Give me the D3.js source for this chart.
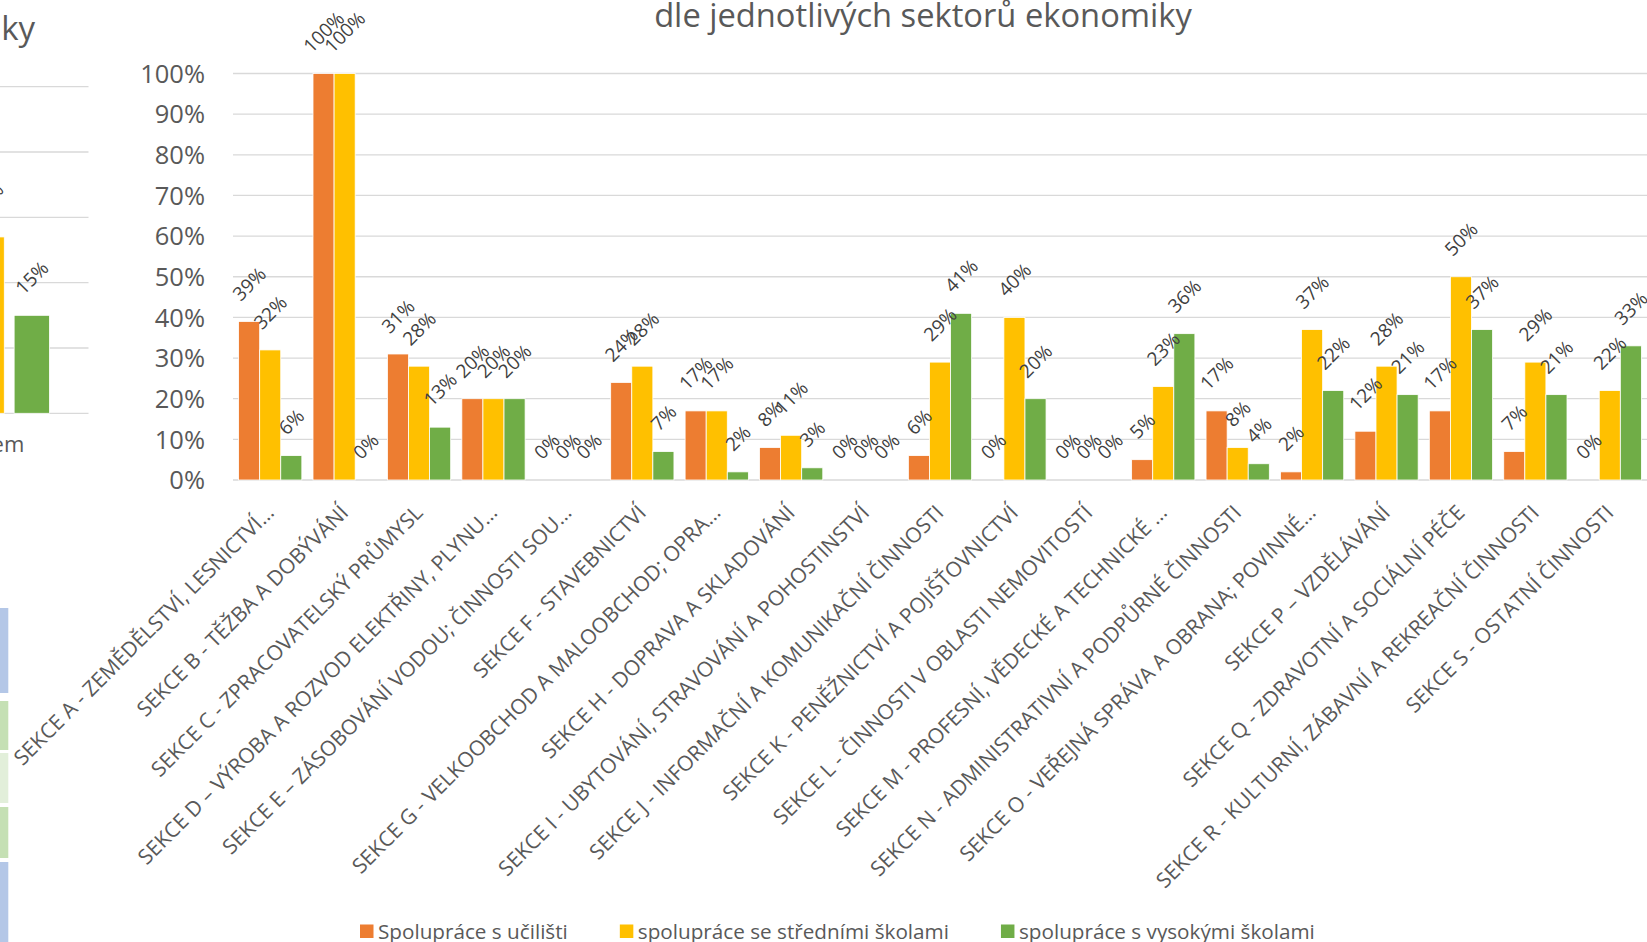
<!DOCTYPE html>
<html><head><meta charset="utf-8">
<script src="https://cdn.jsdelivr.net/npm/d3@7"></script>
<style>
body{margin:0;background:#fff;overflow:hidden}
svg{display:block}
text{font-family:"Open Sans",sans-serif}
</style>
</head><body>
<svg id="chart" width="1647" height="942"></svg>
<script>
// ---------- data ----------
const categories = [
  "SEKCE A - ZEMĚDĚLSTVÍ, LESNICTVÍ…",
  "SEKCE B - TĚŽBA A DOBÝVÁNÍ",
  "SEKCE C - ZPRACOVATELSKÝ PRŮMYSL",
  "SEKCE D – VÝROBA A ROZVOD ELEKTŘINY, PLYNU…",
  "SEKCE E – ZÁSOBOVÁNÍ VODOU; ČINNOSTI SOU…",
  "SEKCE F - STAVEBNICTVÍ",
  "SEKCE G - VELKOOBCHOD A MALOOBCHOD; OPRA…",
  "SEKCE H - DOPRAVA A SKLADOVÁNÍ",
  "SEKCE I - UBYTOVÁNÍ, STRAVOVÁNÍ A POHOSTINSTVÍ",
  "SEKCE J - INFORMAČNÍ A KOMUNIKAČNÍ ČINNOSTI",
  "SEKCE K - PENĚŽNICTVÍ A POJIŠŤOVNICTVÍ",
  "SEKCE L - ČINNOSTI V OBLASTI NEMOVITOSTÍ",
  "SEKCE M - PROFESNÍ, VĚDECKÉ A TECHNICKÉ …",
  "SEKCE N - ADMINISTRATIVNÍ A PODPŮRNÉ ČINNOSTI",
  "SEKCE O - VEŘEJNÁ SPRÁVA A OBRANA; POVINNÉ…",
  "SEKCE P – VZDĚLÁVÁNÍ",
  "SEKCE Q - ZDRAVOTNÍ A SOCIÁLNÍ PÉČE",
  "SEKCE R - KULTURNÍ, ZÁBAVNÍ A REKREAČNÍ ČINNOSTI",
  "SEKCE S - OSTATNÍ ČINNOSTI"
];
const seriesNames = ["Spolupráce s učilišti", "spolupráce se středními školami", "spolupráce s vysokými školami"];
const seriesColors = ["#ED7D31", "#FFC000", "#70AD47"];
const ucilisteValues = [0.39, 1.00, 0.31, 0.20, 0, 0.24, 0.17, 0.08, 0, 0.06, 0, 0, 0.05, 0.17, 0.02, 0.12, 0.17, 0.07, 0];
const stredniValues  = [0.32, 1.00, 0.28, 0.20, 0, 0.28, 0.17, 0.11, 0, 0.29, 0.40, 0, 0.23, 0.08, 0.37, 0.28, 0.50, 0.29, 0.22];
const vysokeValues   = [0.06, 0.00, 0.13, 0.20, 0, 0.07, 0.02, 0.03, 0, 0.41, 0.20, 0, 0.36, 0.04, 0.22, 0.21, 0.37, 0.21, 0.33];
const yTicks = [0, 0.1, 0.2, 0.3, 0.4, 0.5, 0.6, 0.7, 0.8, 0.9, 1.0];
const titleText = "dle jednotlivých sektorů ekonomiky";

// partially visible neighbouring chart on the left
const leftTitleText = "ekonomiky";
const leftCategories = ["Celkem"];
const leftStredniValues = [0.27];
const leftVysokeValues = [0.15];
const leftTicks = [0, 0.1, 0.2, 0.3, 0.4, 0.5];

// ---------- drawing ----------
const svg = d3.select("#chart");
const pct = d3.format(".0%");
const gridColor = "#d9d9d9", axisText = "#595959", labelText = "#404040";
const dlSize = 19;

// ===== left partial chart =====
const ly = d3.scaleLinear().domain([0, 0.5]).range([413.3, 86.7]);
const lx0 = d3.scaleBand().domain(leftCategories).range([-115.9, 88.5]);
const lgc = lx0("Celkem") + lx0.bandwidth() / 2;
const lx1 = d3.scaleBand().domain(seriesNames).range([lgc - 62.5, lgc + 63.15]).paddingInner(0.218);
const lg = svg.append("g");
lg.selectAll("line").data(leftTicks).join("line")
  .attr("x1", -10).attr("x2", 88.5)
  .attr("y1", d => ly(d)).attr("y2", d => ly(d))
  .attr("stroke", gridColor).attr("stroke-width", 1.3);
const leftBars = [
  {s: seriesNames[1], v: leftStredniValues[0], c: seriesColors[1]},
  {s: seriesNames[2], v: leftVysokeValues[0], c: seriesColors[2]}
];
lg.selectAll("rect").data(leftBars).join("rect")
  .attr("x", d => lx1(d.s)).attr("width", lx1.bandwidth())
  .attr("y", d => ly(d.v)).attr("height", d => ly(0) - ly(d.v))
  .attr("fill", d => d.c).attr("stroke", "#fff").attr("stroke-width", 0.8);
lg.selectAll("text.dl").data(leftBars).join("text").attr("class", "dl")
  .text(d => pct(d.v))
  .attr("font-size", dlSize).attr("fill", labelText)
  .attr("text-anchor", "middle").attr("dominant-baseline", "central")
  .each(function(d) {
    const L = this.getComputedTextLength();
    const cx = lx1(d.s) + lx1.bandwidth() / 2;
    const cy = ly(d.v) - (24.5 + L / 2.83);
    d3.select(this).attr("transform", `translate(${cx},${cy}) rotate(-45)`);
  });
lg.append("text").text(leftCategories[0])
  .attr("x", lgc).attr("y", 452)
  .attr("text-anchor", "middle").attr("font-size", 22).attr("fill", axisText);
lg.append("text").text(leftTitleText)
  .attr("x", 35).attr("y", 40).attr("text-anchor", "end")
  .attr("font-size", 33).attr("fill", axisText);

// decorative table cells at left edge
const cellColors = ["#B4C7E7", "#C5E0B4", "#E2EFDA", "#C5E0B4", "#B4C7E7"];
const cellTops = [608, 701, 753, 807, 862];
const cellBottoms = [693, 750, 803, 858, 945];
svg.append("g").selectAll("rect").data(cellColors).join("rect")
  .attr("x", 0).attr("width", 8.3)
  .attr("y", (d, i) => cellTops[i]).attr("height", (d, i) => cellBottoms[i] - cellTops[i])
  .attr("fill", d => d);

// ===== main chart =====
const x0 = d3.scaleBand().domain(categories).range([233, 1647]).padding(0);
const bw = x0.bandwidth();
const clusterW = bw * 0.85;
const x1 = d3.scaleBand().domain(seriesNames).range([(bw - clusterW) / 2, (bw + clusterW) / 2]);
const y = d3.scaleLinear().domain([0, 1]).range([480, 73.5]);

const g = svg.append("g");
// gridlines
g.selectAll("line.grid").data(yTicks).join("line").attr("class", "grid")
  .attr("x1", 233).attr("x2", 1647)
  .attr("y1", d => y(d)).attr("y2", d => y(d))
  .attr("stroke", gridColor).attr("stroke-width", 1.3);

// y axis labels
const yAxis = d3.axisLeft(y).tickValues(yTicks).tickFormat(pct).tickSize(0).tickPadding(0);
const ya = g.append("g").attr("transform", "translate(205,0)").call(yAxis);
ya.select(".domain").remove();
ya.selectAll("text").attr("font-size", 25.5).attr("fill", axisText)
  .attr("font-family", "Open Sans").attr("dy", "0.34em");

// bars
const allSeries = [ucilisteValues, stredniValues, vysokeValues];
const barData = [];
categories.forEach((c, ci) => {
  seriesNames.forEach((s, si) => {
    barData.push({c, s, v: allSeries[si][ci], color: seriesColors[si]});
  });
});
g.selectAll("rect.bar").data(barData).join("rect").attr("class", "bar")
  .attr("x", d => x0(d.c) + x1(d.s)).attr("width", x1.bandwidth())
  .attr("y", d => y(d.v)).attr("height", d => y(0) - y(d.v))
  .attr("fill", d => d.color).attr("stroke", "#fff").attr("stroke-width", 0.8);

// data labels
g.selectAll("text.dl").data(barData).join("text").attr("class", "dl")
  .text(d => pct(d.v))
  .attr("font-size", dlSize).attr("fill", labelText)
  .attr("text-anchor", "middle").attr("dominant-baseline", "central")
  .each(function(d) {
    const L = this.getComputedTextLength();
    const cx = x0(d.c) + x1(d.s) + x1.bandwidth() / 2;
    const cy = y(d.v) - (24.5 + L / 2.83);
    d3.select(this).attr("transform", `translate(${cx},${cy}) rotate(-45)`);
  });

// category labels
const xAxis = d3.axisBottom(x0).tickSize(0).tickPadding(0);
const xa = g.append("g").attr("transform", "translate(0,480)").call(xAxis);
xa.select(".domain").remove();
xa.selectAll(".tick text")
  .attr("font-size", 21).attr("fill", axisText).attr("font-family", "Open Sans")
  .attr("text-anchor", "end").attr("dy", 0).attr("y", 0)
  .attr("transform", "translate(5,34) rotate(-45)");

// title
svg.append("text").text(titleText)
  .attr("x", 923).attr("y", 27).attr("text-anchor", "middle")
  .attr("font-size", 32.7).attr("fill", axisText);

// legend
const legend = svg.append("g");
let lxPos = 360;
seriesNames.forEach((s, i) => {
  legend.append("rect").attr("x", lxPos).attr("y", 924.5).attr("width", 13.5).attr("height", 13.5).attr("fill", seriesColors[i]);
  const t = legend.append("text").text(s).attr("x", lxPos + 18).attr("y", 938.5)
    .attr("font-size", 20.7).attr("fill", axisText);
  lxPos = lxPos + 18 + t.node().getComputedTextLength() + 52;
});
</script>
</body></html>
